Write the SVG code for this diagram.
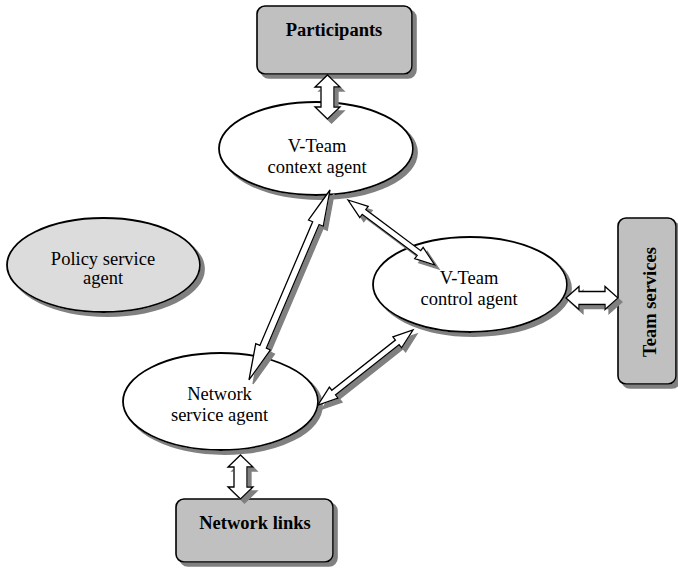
<svg xmlns="http://www.w3.org/2000/svg" width="678" height="570" viewBox="0 0 678 570">
<style>
.box{fill:#c0c0c0;stroke:#000;stroke-width:1.6}
.ell{fill:#fff;stroke:#000;stroke-width:1.8}
.ell2{fill:#dcdcdc;stroke:#000;stroke-width:1.8}
.arr{fill:#fff;stroke:#000;stroke-width:1.3;stroke-linejoin:miter}
.t{font-family:"Liberation Serif","Times New Roman",serif;font-size:18.5px;fill:#000;text-anchor:middle}
.b{font-weight:bold}
</style>
<defs>
<filter id="sh" filterUnits="userSpaceOnUse" x="0" y="0" width="678" height="570">
<feFlood flood-color="#808080"/>
<feComposite operator="in" in2="SourceAlpha"/>
<feOffset dx="4" dy="4" result="s"/>
<feMerge><feMergeNode in="s"/><feMergeNode in="SourceGraphic"/></feMerge>
</filter>
</defs>
<rect width="678" height="570" fill="#fff"/>
<g id="participants">
<rect class="box" x="257" y="6" width="155" height="68" rx="8" filter="url(#sh)"/>
<text class="t b" x="334" y="36">Participants</text>
</g>
<g id="context-agent">
<ellipse class="ell" cx="316" cy="148.5" rx="97" ry="46.5" filter="url(#sh)"/>
<text class="t" x="317" y="152">V-Team</text>
<text class="t" x="317" y="173">context agent</text>
</g>
<g id="policy-agent">
<ellipse class="ell2" cx="103.5" cy="265" rx="96.5" ry="47" filter="url(#sh)"/>
<text class="t" x="103" y="265">Policy service</text>
<text class="t" x="103" y="284">agent</text>
</g>
<g id="control-agent">
<ellipse class="ell" cx="470" cy="284.5" rx="97" ry="47.5" filter="url(#sh)"/>
<text class="t" x="469" y="284">V-Team</text>
<text class="t" x="469" y="305">control agent</text>
</g>
<g id="team-services">
<rect class="box" x="618" y="218" width="58" height="166" rx="8" filter="url(#sh)"/>
<text class="t b" transform="translate(656,302) rotate(-90)">Team services</text>
</g>
<g id="network-agent">
<ellipse class="ell" cx="220.5" cy="401.5" rx="97.5" ry="48.5" filter="url(#sh)"/>
<text class="t" x="219.5" y="400">Network</text>
<text class="t" x="219.5" y="421">service agent</text>
</g>
<g id="network-links">
<rect class="box" x="176" y="499" width="157" height="63" rx="8" filter="url(#sh)"/>
<text class="t b" x="255" y="529">Network links</text>
</g>
<g id="connectors">
<g filter="url(#sh)"><polygon class="arr" transform="translate(327.5,75) rotate(90)" points="0,0 12,-12.5 12,-6.5 32,-6.5 32,-12.5 44,0 32,12.5 32,6.5 12,6.5 12,12.5"/></g>
<g filter="url(#sh)"><polygon class="arr" transform="translate(240.5,455) rotate(90)" points="0,0 12,-12.5 12,-6.5 32,-6.5 32,-12.5 44,0 32,12.5 32,6.5 12,6.5 12,12.5"/></g>
<g filter="url(#sh)"><polygon class="arr" transform="translate(566,298)" points="0,0 13,-11.5 13,-6.5 39,-6.5 39,-11.5 52,0 39,11.5 39,6.5 13,6.5 13,11.5"/></g>
<g filter="url(#sh)"><polygon class="arr" transform="translate(330,190) rotate(113.1)" points="0,0 36,-8 36,-3.5 170.5,-3.5 170.5,-8 206.5,0 170.5,8 170.5,3.5 36,3.5 36,8"/></g>
<g filter="url(#sh)"><polygon class="arr" transform="translate(348,200) rotate(36.8)" points="0,0 20,-7 20,-3 88.6,-3 88.6,-7 108.6,0 88.6,7 88.6,3 20,3 20,7"/></g>
<g filter="url(#sh)"><polygon class="arr" transform="translate(318,405) rotate(-38.3)" points="0,0 20,-7 20,-3 101,-3 101,-7 121,0 101,7 101,3 20,3 20,7"/></g>
</g>
</svg>
